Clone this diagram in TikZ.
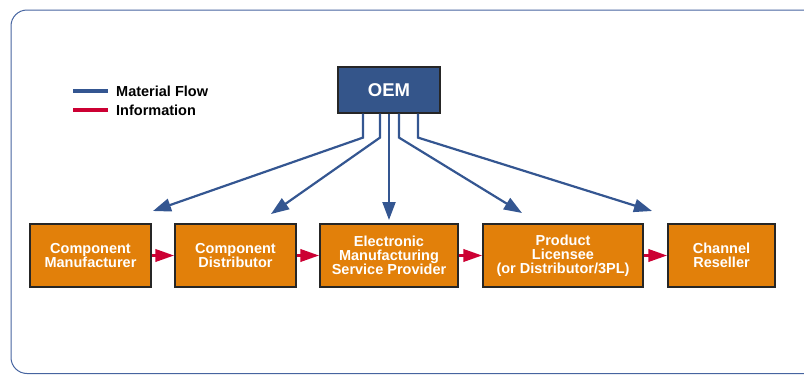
\documentclass[tikz,border=0pt]{standalone}
\usepackage{fontspec}
\setmainfont{Liberation Sans}
\usetikzlibrary{arrows.meta,calc}
\definecolor{oemblue}{RGB}{52,85,138}
\definecolor{flowblue}{RGB}{52,86,145}
\definecolor{boxorange}{RGB}{226,128,10}
\definecolor{infored}{RGB}{204,0,51}
\definecolor{framec}{RGB}{70,100,160}
\begin{document}
\begin{tikzpicture}[x=1pt,y=-1pt,
  stage/.style={draw=black!85, line width=1.2pt, fill=boxorange, text=white,
    font=\bfseries\fontsize{14.5}{14}\selectfont, align=center, inner sep=0pt,
    minimum height=63pt},
  oembox/.style={draw=black!85, line width=1.2pt, fill=oemblue, text=white,
    font=\bfseries\fontsize{18.5}{18}\selectfont, inner sep=0pt,
    minimum width=102pt, minimum height=46pt},
  legendtext/.style={anchor=west, inner sep=0pt, font=\bfseries\fontsize{14.5}{14}\selectfont},
  flowarrow/.style={draw=flowblue, line width=2.2pt,
    -{Triangle[length=18pt,width=13pt]}},
  infoarrow/.style={draw=infored, line width=3.5pt,
    -{Triangle[length=19pt,width=12pt]}},
  swatch/.style={line width=4pt}
]
\useasboundingbox (0,0) rectangle (804,375);
\begin{scope}
  \clip (0,0) rectangle (804,375);
  \draw[framec, line width=1pt, rounded corners=16pt] (11,10) rectangle (830,373.5);
\end{scope}

% legend
\node[legendtext] (lmat) at (116,91) {Material Flow};
\node[legendtext] (linf) at (116,110) {Information};
\draw[swatch, flowblue] ($(lmat.west)+(-43,0)$) -- ++(35,0);
\draw[swatch, infored] ($(linf.west)+(-43,0)$) -- ++(35,0);

% OEM
\node[oembox] (oem) at (389,90) {OEM};

% stages
\node[stage, minimum width=121pt] (b1) at (90.5,255.5) {Component\\Manufacturer};
\node[stage, minimum width=121pt] (b2) at (235.5,255.5) {Component\\Distributor};
\node[stage, minimum width=138pt] (b3) at (389,255.5) {Electronic\\Manufacturing\\Service Provider};
\node[stage, minimum width=160pt] (b4) at (563,255.5) {Product\\Licensee\\(or Distributor/3PL)};
\node[stage, minimum width=107pt] (b5) at (721.5,255.5) {Channel\\Reseller};

% information arrows
\draw[infoarrow] (b1.east) -- (b2.west);
\draw[infoarrow] (b2.east) -- (b3.west);
\draw[infoarrow] (b3.east) -- (b4.west);
\draw[infoarrow] (b4.east) -- (b5.west);

% material flow arrows
\coordinate (t1) at (153,211);
\coordinate (t2) at (271,214);
\coordinate (t3) at (389,220);
\coordinate (t4) at (522,213);
\coordinate (t5) at (652,211);
\draw[flowarrow] ($(oem.south)+(-26,0)$) -- ++(0,24) -- (t1);
\draw[flowarrow] ($(oem.south)+(-9,0)$) -- ++(0,24) -- (t2);
\draw[flowarrow] (oem.south) -- (t3);
\draw[flowarrow] ($(oem.south)+(10,0)$) -- ++(0,24) -- (t4);
\draw[flowarrow] ($(oem.south)+(29,0)$) -- ++(0,24) -- (t5);
\end{tikzpicture}
\end{document}
